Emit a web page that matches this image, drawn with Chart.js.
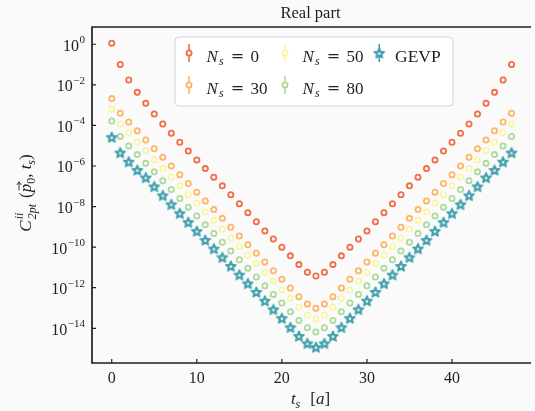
<!DOCTYPE html>
<html>
<head>
<meta charset="utf-8">
<title>Real part</title>
<script src="https://cdn.jsdelivr.net/npm/chart.js@4.4.0/dist/chart.umd.min.js"></script>
<style>
  html, body { margin: 0; padding: 0; background: #fafafa; }
  #wrap { width: 535px; height: 411px; }
</style>
</head>
<body>
<div id="wrap"><canvas id="c2pt" width="535" height="411"></canvas></div>
<script>
/* ================================================
   DATA  (log10 of C_2pt)
================================================ */

const timeSlices = [0, 1, 2, 3, 4, 5, 6, 7, 8, 9, 10, 11, 12, 13, 14, 15, 16, 17, 18, 19, 20, 21, 22, 23,
                    24, 25, 26, 27, 28, 29, 30, 31, 32, 33, 34, 35, 36, 37, 38, 39, 40, 41, 42, 43, 44, 45, 46, 47];

const ns0Log = [0.05, -1.00, -1.76, -2.37, -2.91, -3.44, -3.93, -4.39, -4.83, -5.26, -5.70, -6.13,
                -6.55, -6.98, -7.42, -7.86, -8.30, -8.75, -9.20, -9.60, -10.00, -10.43, -10.86, -11.24,
                -11.42, -11.24, -10.86, -10.43, -10.00, -9.60, -9.20, -8.75, -8.30, -7.86, -7.42, -6.98,
                -6.55, -6.13, -5.70, -5.26, -4.83, -4.39, -3.93, -3.44, -2.91, -2.37, -1.76, -1.00];

const ns30Log = [-2.68, -3.40, -3.83, -4.26, -4.72, -5.15, -5.57, -6.00, -6.43, -6.86, -7.29, -7.72,
                 -8.15, -8.58, -9.02, -9.45, -9.88, -10.30, -10.73, -11.16, -11.58, -12.01, -12.44, -12.80,
                 -13.01, -12.80, -12.44, -12.01, -11.58, -11.16, -10.73, -10.30, -9.88, -9.45, -9.02, -8.58,
                 -8.15, -7.72, -7.29, -6.86, -6.43, -6.00, -5.57, -5.15, -4.72, -4.26, -3.83, -3.40];

const ns50Log = [-3.19, -3.93, -4.36, -4.82, -5.24, -5.69, -6.11, -6.54, -6.97, -7.40, -7.83, -8.26,
                 -8.69, -9.12, -9.55, -9.98, -10.40, -10.81, -11.24, -11.67, -12.11, -12.52, -12.95, -13.34,
                 -13.54, -13.34, -12.95, -12.52, -12.11, -11.67, -11.24, -10.81, -10.40, -9.98, -9.55, -9.12,
                 -8.69, -8.26, -7.83, -7.40, -6.97, -6.54, -6.11, -5.69, -5.24, -4.82, -4.36, -3.93];

const ns80Log = [-3.78, -4.55, -5.01, -5.44, -5.87, -6.29, -6.73, -7.16, -7.60, -8.03, -8.46, -8.90,
                 -9.33, -9.76, -10.19, -10.62, -11.04, -11.47, -11.90, -12.33, -12.75, -13.18, -13.61, -13.97,
                 -14.18, -13.97, -13.61, -13.18, -12.75, -12.33, -11.90, -11.47, -11.04, -10.62, -10.19, -9.76,
                 -9.33, -8.90, -8.46, -8.03, -7.60, -7.16, -6.73, -6.29, -5.87, -5.44, -5.01, -4.55];

const gevpLog = [-4.58, -5.34, -5.79, -6.20, -6.57, -7.01, -7.45, -7.89, -8.33, -8.77, -9.21, -9.65,
                 -10.07, -10.50, -10.93, -11.36, -11.79, -12.21, -12.64, -13.07, -13.50, -13.95, -14.38, -14.74,
                 -14.93, -14.74, -14.38, -13.95, -13.50, -13.07, -12.64, -12.21, -11.79, -11.36, -10.93, -10.50,
                 -10.07, -9.65, -9.21, -8.77, -8.33, -7.89, -7.45, -7.01, -6.57, -6.20, -5.79, -5.34];

const seriesNs  = ['0', '30', '50', '80'];
const xTicks    = [0, 10, 20, 30, 40];
const yTickExps = [0, -2, -4, -6, -8, -10, -12, -14];

/* ================================================
   STYLE
================================================ */

const SERIF = '"Liberation Serif", "DejaVu Serif", serif';
const font  = (size, style) => (style ? style + ' ' : '') + size + 'px ' + SERIF;

const COLORS = {
  ns0:  '#f26c45',
  ns30: '#fdb566',
  ns50: '#f9f5a6',
  ns80: '#add99c',
  gevp: '#43a1ae',
  axis: '#1f1f1f',
};

function makeStar(color, R) {
  const c = document.createElement('canvas');
  const s = Math.ceil(R * 2 + 4);
  c.width = s; c.height = s;
  const g = c.getContext('2d');
  const cx = s / 2, cy = s / 2 + 0.5;
  const path = (r1, r2) => {
    g.beginPath();
    for (let i = 0; i < 10; i++) {
      const r = i % 2 ? r2 : r1;
      const a = -Math.PI / 2 + i * Math.PI / 5;
      g.lineTo(cx + r * Math.cos(a), cy + r * Math.sin(a));
    }
    g.closePath();
  };
  path(R, R * 0.5);
  g.fillStyle = color; g.strokeStyle = color; g.lineWidth = 1.2; g.lineJoin = 'round';
  g.fill(); g.stroke();
  path(R * 0.34, R * 0.17);
  g.fillStyle = '#eef7f8'; g.fill();
  return c;
}

const starImg = makeStar(COLORS.gevp, 5.6);

const toPoints = logs => timeSlices.map((t, i) => ({ x: t, y: Math.pow(10, logs[i]) }));

function ringSet(label, logs, color, order) {
  return {
    label,
    data:             toPoints(logs),
    pointStyle:       'circle',
    pointRadius:      2.6,
    borderWidth:      1.8,
    borderColor:      color,
    backgroundColor:  '#ffffff',
    showLine:         false,
    order,
  };
}

/* ================================================
   TEXT HELPERS
================================================ */

function partWidth(ctx, p) {
  if (p.gap) return p.gap;
  const items = p.stack || [p];
  let w = 0;
  for (const q of items) { ctx.font = q.font; w = Math.max(w, ctx.measureText(q.t).width); }
  return w;
}

function richWidth(ctx, parts) {
  return parts.reduce((s, p) => s + partWidth(ctx, p), 0);
}

function drawRich(ctx, parts, x, y) {
  let cx = x;
  for (const p of parts) {
    if (p.gap) { cx += p.gap; continue; }
    const items = p.stack || [p];
    for (const q of items) {
      ctx.font = q.font;
      ctx.fillText(q.t, cx, y + (q.dy || 0));
    }
    const w = partWidth(ctx, p);
    if (p.arrow) {
      const ay = y - 12;
      ctx.save();
      ctx.lineWidth = 0.9;
      ctx.beginPath();
      ctx.moveTo(cx + 2, ay); ctx.lineTo(cx + w + 2, ay);
      ctx.moveTo(cx + w - 1, ay - 2.2); ctx.lineTo(cx + w + 2, ay); ctx.lineTo(cx + w - 1, ay + 2.2);
      ctx.stroke();
      ctx.restore();
    }
    cx += w;
  }
  return cx;
}

/* ================================================
   DECORATION PLUGIN  (frame, ticks, labels, legend)
================================================ */

const decor = {
  id: 'decor',
  beforeDraw(chart) {
    const ctx = chart.ctx;
    ctx.save();
    ctx.fillStyle = '#fafafa';
    ctx.fillRect(0, 0, chart.width, chart.height);
    ctx.restore();
  },
  afterDraw(chart) {
    const { ctx, chartArea: a, scales: { x, y } } = chart;
    ctx.save();
    ctx.strokeStyle = COLORS.axis;
    ctx.fillStyle   = COLORS.axis;

    /* spines */
    ctx.lineWidth = 1.7;
    ctx.beginPath();
    ctx.moveTo(a.right + 2, a.top); ctx.lineTo(a.left, a.top);
    ctx.lineTo(a.left, a.bottom); ctx.lineTo(a.right + 2, a.bottom);
    ctx.stroke();

    /* inward ticks */
    ctx.lineWidth = 1.2;
    ctx.beginPath();
    for (const v of xTicks) {
      const px = x.getPixelForValue(v);
      ctx.moveTo(px, a.bottom); ctx.lineTo(px, a.bottom - 4);
    }
    for (const e of yTickExps) {
      const py = y.getPixelForValue(Math.pow(10, e));
      ctx.moveTo(a.left, py); ctx.lineTo(a.left + 4, py);
    }
    ctx.stroke();

    ctx.textBaseline = 'alphabetic';

    /* x tick labels */
    ctx.font = font(16);
    ctx.textAlign = 'center';
    for (const v of xTicks) {
      ctx.fillText(String(v), x.getPixelForValue(v), a.bottom + 19.5);
    }

    /* y tick labels  10^e */
    ctx.textAlign = 'left';
    for (const e of yTickExps) {
      const py  = y.getPixelForValue(Math.pow(10, e));
      const exp = e < 0 ? '\u2212' + (-e) : String(e);
      const parts = [{ t: '10', font: font(16) }, { gap: 0.5 }, { t: exp, font: font(11), dy: -7.5 }];
      const w = richWidth(ctx, parts);
      drawRich(ctx, parts, a.left - 7 - w, py + 6.5);
    }

    /* title */
    ctx.textAlign = 'center';
    ctx.font = font(16.5);
    ctx.fillText('Real part', (a.left + a.right) / 2, 18);

    /* x axis label  t_s [a] */
    ctx.textAlign = 'left';
    const xl = [
      { t: 't', font: font(17, 'italic') },
      { t: 's', font: font(12, 'italic'), dy: 3.5 },
      { gap: 10 },
      { t: '[', font: font(17) }, { t: 'a', font: font(17, 'italic') }, { t: ']', font: font(17) },
    ];
    drawRich(ctx, xl, (a.left + a.right) / 2 - richWidth(ctx, xl) / 2, 404);

    /* y axis label  C_2pt^ii (p_0, t_s) */
    const yl = [
      { t: 'C', font: font(17, 'italic') },
      { gap: 1 },
      { stack: [
        { t: 'ii',  font: font(12, 'italic'), dy: -8 },
        { t: '2pt', font: font(12, 'italic'), dy: 4.5 },
      ] },
      { gap: 6 },
      { t: '(', font: font(17) },
      { t: 'p', font: font(17, 'italic'), arrow: true },
      { t: '0', font: font(12), dy: 3.5 },
      { t: ', ', font: font(17) },
      { t: 't', font: font(17, 'italic') },
      { t: 's', font: font(12, 'italic'), dy: 3.5 },
      { t: ')', font: font(17) },
    ];
    ctx.save();
    ctx.translate(31, 193);
    ctx.rotate(-Math.PI / 2);
    drawRich(ctx, yl, -richWidth(ctx, yl) / 2, 0);
    ctx.restore();

    /* legend box */
    const bx = 175, by = 37, bw = 278, bh = 69;
    ctx.beginPath();
    ctx.roundRect(bx, by, bw, bh, 4);
    ctx.fillStyle = 'rgba(255,255,255,0.85)';
    ctx.fill();
    ctx.strokeStyle = '#d4d4d4';
    ctx.lineWidth = 1;
    ctx.stroke();

    const items = [
      { color: COLORS.ns0,  ns: seriesNs[0], mx: 189,   my: 53 },
      { color: COLORS.ns30, ns: seriesNs[1], mx: 189,   my: 85 },
      { color: COLORS.ns50, ns: seriesNs[2], mx: 285,   my: 53 },
      { color: COLORS.ns80, ns: seriesNs[3], mx: 285,   my: 85 },
    ];
    for (const it of items) {
      ctx.strokeStyle = it.color;
      ctx.lineWidth = 1.6;
      ctx.beginPath();
      ctx.moveTo(it.mx, it.my - 9); ctx.lineTo(it.mx, it.my + 9);
      ctx.stroke();
      ctx.beginPath();
      ctx.arc(it.mx, it.my, 2.6, 0, Math.PI * 2);
      ctx.fillStyle = '#ffffff';
      ctx.fill();
      ctx.lineWidth = 1.8;
      ctx.stroke();

      const x0 = it.mx + 17.5, base = it.my + 8.5;
      ctx.fillStyle = COLORS.axis;
      ctx.textAlign = 'left';
      ctx.font = font(17, 'italic');
      ctx.fillText('N', x0, base);
      ctx.font = font(12, 'italic');
      ctx.fillText('s', x0 + 12.5, base + 3.5);
      ctx.font = '16px "DejaVu Serif", serif';
      ctx.textAlign = 'center';
      ctx.fillText('=', x0 + 31, base - 0.5);
      ctx.font = font(17);
      ctx.textAlign = 'left';
      ctx.fillText(it.ns, x0 + 44, base);
    }

    /* GEVP entry */
    ctx.strokeStyle = COLORS.gevp;
    ctx.lineWidth = 1.6;
    ctx.beginPath();
    ctx.moveTo(379.3, 44); ctx.lineTo(379.3, 62);
    ctx.stroke();
    ctx.drawImage(starImg, 379.3 - starImg.width / 2, 53 - starImg.height / 2);
    ctx.fillStyle = COLORS.axis;
    ctx.font = font(17.5);
    ctx.fillText('GEVP', 395, 61.5);

    ctx.restore();
  },
};

/* ================================================
   CHART
================================================ */

new Chart(document.getElementById('c2pt').getContext('2d'), {
  type: 'scatter',
  data: {
    datasets: [
      ringSet('Ns = 0',  ns0Log,  COLORS.ns0,  4),
      ringSet('Ns = 30', ns30Log, COLORS.ns30, 3),
      ringSet('Ns = 50', ns50Log, COLORS.ns50, 2),
      ringSet('Ns = 80', ns80Log, COLORS.ns80, 1),
      {
        label:       'GEVP',
        data:        toPoints(gevpLog),
        pointStyle:  starImg,
        pointRadius: 5,
        showLine:    false,
        order:       0,
      },
    ],
  },
  options: {
    responsive: false,
    animation:  false,
    layout: { padding: { left: 92, top: 27, right: 0, bottom: 48 } },
    plugins: {
      legend:  { display: false },
      tooltip: { enabled: false },
    },
    scales: {
      x: { type: 'linear', min: -2.32, max: 49.05, bounds: 'data', display: false },
      y: { type: 'logarithmic', min: Math.pow(10, -15.71), max: Math.pow(10, 0.85), bounds: 'data', display: false },
    },
  },
  plugins: [decor],
});
</script>
</body>
</html>
